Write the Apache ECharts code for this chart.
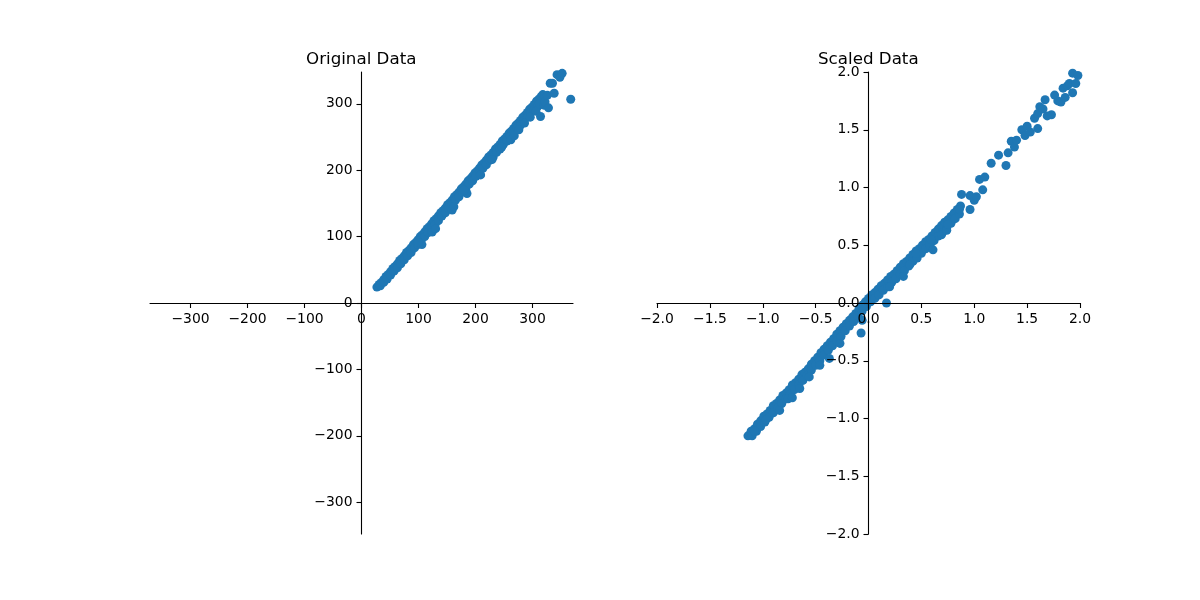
<!DOCTYPE html>
<html>
<head>
<meta charset="utf-8">
<script src="https://cdn.jsdelivr.net/npm/echarts@6/dist/echarts.min.js"></script>
<style>
html, body { margin: 0; padding: 0; background: #fff; }
#main { width: 1200px; height: 600px; }
</style>
</head>
<body>
<div id="main"></div>
<script>
// 原始数据 (x, y)：上沿一排、下沿一排、零星离群点
var origTopRow = [
  [27,24],[31,28],[35,31],[39,35],[43,40],[47,43],[51,47],[55,52],[59,55],[63,59],[67,64],[71,67],
  [75,71],[79,76],[83,79],[87,83],[91,88],[95,91],[99,95],[103,100],[107,103],[111,107],[115,112],
  [119,115],[123,119],[127,124],[131,127],[135,131],[139,136],[143,139],[147,143],[151,148],[155,151],
  [159,155],[163,160],[167,163],[171,167],[175,172],[179,175],[183,179],[187,184],[191,187],[195,191],
  [199,196],[203,199],[207,203],[211,208],[215,211],[219,215],[223,220],[227,223],[231,227],[235,232],
  [239,235],[243,239],[247,244],[251,247],[255,251],[259,256],[263,259],[267,263],[271,268],[275,271],
  [279,275],[283,280],[287,283],[291,287],[295,292],[299,295],[303,299],[307,304],[311,307],[315,311],
  [318,314],[321,312]
];
var origLowRow = [
  [33,26],[39,31],[45,36],[51,42],[57,48],[63,53],[69,59],[75,65],[81,71],[87,76],[93,83],[99,88],
  [105,95],[111,100],[117,106],[123,113],[129,118],[135,124],[141,131],[147,136],[153,143],[159,148],
  [165,155],[171,160],[177,167],[183,172],[189,179],[195,184],[201,191],[207,196],[213,203],[219,208],
  [225,215],[231,220],[237,227],[243,232],[249,239],[255,244],[261,251],[267,256],[273,263],[279,268],
  [285,275],[291,280],[297,287],[303,291],[309,296]
];
var origOutliers = [
  [106,88],[100,91],[124,107],[130,112],[159,140],[162,145],[185,165],[180,170],[209,193],[229,216],
  [246,235],[262,246],[268,252],[276,261],[286,271],[296,280],[306,289],
  [312,300],[320,298],[314,281],[322,303],[328,294],[326,313],[331,331],[335,331],
  [338,316],[343,344],[348,340],[352,346],[367,307]
];
// 标准化后数据 (x, y)
var scaledTopRow = [
  [-1.14,-1.15],[-1.11,-1.11],[-1.08,-1.09],[-1.05,-1.05],[-1.02,-1.02],[-0.99,-0.98],[-0.96,-0.96],
  [-0.93,-0.93],[-0.90,-0.89],[-0.87,-0.87],[-0.84,-0.84],[-0.81,-0.80],[-0.78,-0.78],[-0.75,-0.75],
  [-0.72,-0.71],[-0.69,-0.69],[-0.66,-0.66],[-0.63,-0.62],[-0.60,-0.60],[-0.57,-0.57],[-0.54,-0.53],
  [-0.51,-0.50],[-0.48,-0.47],[-0.45,-0.43],[-0.42,-0.40],[-0.39,-0.37],[-0.36,-0.34],[-0.33,-0.31],
  [-0.30,-0.27],[-0.27,-0.24],[-0.24,-0.21],[-0.21,-0.18],[-0.18,-0.15],[-0.15,-0.12],[-0.12,-0.09],
  [-0.09,-0.05],[-0.06,-0.02],[-0.03,0.01],[0.00,0.04],[0.03,0.07],[0.06,0.09],[0.09,0.12],[0.12,0.15],
  [0.15,0.17],[0.18,0.20],[0.21,0.23],[0.24,0.25],[0.27,0.28],[0.30,0.31],[0.33,0.34],[0.36,0.36],
  [0.39,0.39],[0.42,0.42],[0.45,0.45],[0.48,0.47],[0.51,0.50],[0.54,0.53],[0.57,0.55],[0.60,0.58],
  [0.63,0.61],[0.66,0.64],[0.69,0.67],[0.72,0.70],[0.75,0.72],[0.78,0.75],[0.81,0.78],[0.84,0.81],
  [0.87,0.84]
];
var scaledLowRow = [
  [-1.10,-1.15],[-1.06,-1.11],[-1.02,-1.07],[-0.98,-1.03],[-0.94,-0.99],[-0.90,-0.95],[-0.86,-0.91],
  [-0.82,-0.87],[-0.78,-0.83],[-0.74,-0.79],[-0.70,-0.75],[-0.66,-0.71],[-0.62,-0.67],[-0.58,-0.63],
  [-0.54,-0.58],[-0.50,-0.54],[-0.46,-0.50],[-0.42,-0.45],[-0.38,-0.41],[-0.34,-0.37],[-0.30,-0.33],
  [-0.26,-0.29],[-0.22,-0.24],[-0.18,-0.20],[-0.14,-0.16],[-0.10,-0.11],[-0.06,-0.07],[-0.02,-0.03],
  [0.02,0.01],[0.06,0.04],[0.10,0.07],[0.14,0.11],[0.18,0.14],[0.22,0.18],[0.26,0.21],[0.30,0.25],
  [0.34,0.28],[0.38,0.32],[0.42,0.36],[0.46,0.39],[0.50,0.43],[0.54,0.47],[0.58,0.50],[0.62,0.54],
  [0.66,0.58],[0.70,0.61],[0.74,0.65],[0.78,0.69],[0.82,0.73],[0.86,0.77]
];
var scaledOutliers = [
  [-1.08,-1.11],[-0.97,-1.01],[-0.84,-0.93],[-0.76,-0.83],[-0.72,-0.82],[-0.65,-0.74],[-0.56,-0.64],
  [-0.46,-0.54],[-0.37,-0.48],[-0.27,-0.35],[-0.07,-0.26],[-0.06,-0.15],[0.17,0.00],[0.20,0.14],
  [0.33,0.23],[0.39,0.33],[0.45,0.43],[0.61,0.46],[0.59,0.55],[0.69,0.59],[0.74,0.63],[0.75,0.68],
  [0.86,0.81],[0.96,0.81],[0.88,0.94],[0.96,0.93],[1.00,0.89],[1.02,0.92],[1.08,0.98],[1.05,1.07],
  [1.10,1.09],[1.16,1.21],[1.23,1.28],[1.30,1.19],[1.32,1.30],[1.35,1.40],[1.38,1.35],[1.40,1.41],
  [1.45,1.50],[1.48,1.45],[1.50,1.53],[1.53,1.48],[1.57,1.60],[1.60,1.51],[1.60,1.64],[1.62,1.70],
  [1.65,1.68],[1.67,1.76],[1.69,1.62],[1.73,1.63],[1.76,1.80],[1.79,1.75],[1.82,1.74],[1.84,1.86],
  [1.86,1.78],[1.88,1.88],[1.90,1.90],[1.93,1.82],[1.93,1.99],[1.96,1.90],[1.98,1.97]
];
var origTicks = [-300, -200, -100, 0, 100, 200, 300];
var scaledTicks = [-2, -1.5, -1, -0.5, 0, 0.5, 1, 1.5, 2];
var origRangeX = [-371, 371];
var origRangeY = [-348, 348];
var scaledRange = [-2, 2];
var titles = ['Original Data', 'Scaled Data'];

var FONT = 'DejaVu Sans';
var BLUE = '#1f77b4';
var GRID_W = 423, GRID_H = 462;

// 负号用 unicode minus，与 matplotlib 一致
function intFmt(v) {
  return String(Math.round(v)).replace('-', '\u2212');
}
function oneDecFmt(v) {
  return v.toFixed(1).replace('-', '\u2212');
}

// 坐标轴移到另一轴的 0 处（范围对称，0 在正中）
function makeAxis(gridIndex, range, ticks, fmt, pos, offset) {
  return {
    type: 'value',
    gridIndex: gridIndex,
    position: pos,
    offset: offset,
    min: range[0],
    max: range[1],
    z: 5,
    axisLine: { show: true, onZero: false, lineStyle: { color: '#000', width: 1.1 } },
    axisTick: { show: true, inside: false, length: 5, customValues: ticks, lineStyle: { color: '#000', width: 1.1 } },
    axisLabel: {
      customValues: ticks, formatter: fmt, color: '#000',
      fontSize: 13.9, fontFamily: FONT, margin: 9
    },
    splitLine: { show: false }
  };
}

function scatter(idx, data) {
  return {
    type: 'scatter', xAxisIndex: idx, yAxisIndex: idx,
    data: data, symbolSize: 9, clip: true,
    itemStyle: { color: BLUE, opacity: 1 }
  };
}

var titleStyle = { fontFamily: FONT, fontSize: 16.7, fontWeight: 'normal', color: '#000' };

var myChart = echarts.init(document.getElementById('main'), null, { renderer: 'canvas' });
var option = {
  animation: false,
  backgroundColor: '#fff',
  title: [
    { text: titles[0], left: 301, top: 46, textStyle: titleStyle },
    { text: titles[1], left: 813, top: 46, textStyle: titleStyle }
  ],
  grid: [
    { left: 150, top: 72, width: GRID_W, height: GRID_H },
    { left: 657, top: 72, width: GRID_W, height: GRID_H }
  ],
  xAxis: [
    makeAxis(0, origRangeX, origTicks, intFmt, 'bottom', -GRID_H / 2),
    makeAxis(1, scaledRange, scaledTicks, oneDecFmt, 'bottom', -GRID_H / 2)
  ],
  yAxis: [
    makeAxis(0, origRangeY, origTicks, intFmt, 'left', -GRID_W / 2),
    makeAxis(1, scaledRange, scaledTicks, oneDecFmt, 'left', -GRID_W / 2)
  ],
  series: [
    scatter(0, origTopRow.concat(origLowRow, origOutliers)),
    scatter(1, scaledTopRow.concat(scaledLowRow, scaledOutliers))
  ]
};
myChart.setOption(option);
window.onresize = myChart.resize;
</script>
</body>
</html>
